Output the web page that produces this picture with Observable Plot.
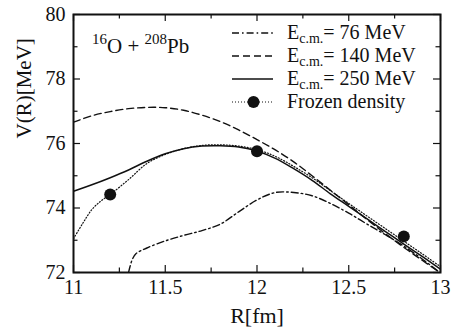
<!DOCTYPE html>
<html><head><meta charset="utf-8">
<script src="https://cdn.jsdelivr.net/npm/d3@7"></script>
<script src="https://cdn.jsdelivr.net/npm/@observablehq/plot@0.6"></script>
<style>
html,body{margin:0;padding:0;background:#fff}
#chart svg, #chart svg text{font-family:"Liberation Serif","Tinos",serif !important}
</style>
</head><body><div id="chart"></div>
<script>
// ---- data ----
const r76 = [11.30, 11.32, 11.34, 11.40, 11.50, 11.60, 11.70, 11.80, 11.90, 12.00, 12.10, 12.20, 12.30, 12.40, 12.50, 12.60, 12.70, 12.80, 12.90, 13.00];
const v76 = [72.00, 72.40, 72.58, 72.76, 72.98, 73.15, 73.30, 73.50, 73.88, 74.25, 74.48, 74.48, 74.38, 74.14, 73.84, 73.50, 73.17, 72.82, 72.42, 71.98];

const r140 = [11.0, 11.1, 11.2, 11.3, 11.4, 11.5, 11.6, 11.7, 11.8, 11.9, 12.0, 12.1, 12.2, 12.3, 12.4, 12.5, 12.6, 12.7, 12.8, 12.9, 13.0];
const v140 = [76.66, 76.86, 76.99, 77.08, 77.12, 77.11, 77.03, 76.88, 76.68, 76.42, 76.12, 75.80, 75.43, 75.00, 74.55, 74.10, 73.64, 73.20, 72.78, 72.38, 71.99];

const r250 = [11.0, 11.1, 11.2, 11.3, 11.4, 11.5, 11.6, 11.7, 11.8, 11.9, 12.0, 12.1, 12.2, 12.3, 12.4, 12.5, 12.6, 12.7, 12.8, 12.9, 13.0];
const v250 = [74.52, 74.72, 74.94, 75.18, 75.45, 75.68, 75.84, 75.92, 75.93, 75.89, 75.77, 75.54, 75.22, 74.86, 74.44, 74.05, 73.66, 73.27, 72.88, 72.50, 72.10];

const rFrozen = [11.0, 11.05, 11.1, 11.15, 11.2, 11.3, 11.4, 11.5, 11.6, 11.7, 11.8, 11.9, 12.0, 12.1, 12.2, 12.3, 12.4, 12.5, 12.6, 12.7, 12.8, 12.9, 13.0];
const vFrozen = [73.05, 73.52, 73.95, 74.22, 74.42, 74.88, 75.38, 75.66, 75.84, 75.94, 75.96, 75.92, 75.81, 75.60, 75.29, 74.94, 74.54, 74.14, 73.75, 73.36, 72.97, 72.58, 72.18];

const rFrozenPts = [11.2, 12.0, 12.8];
const vFrozenPts = [74.42, 75.76, 73.12];

const xTicks = [11, 11.5, 12, 12.5, 13];
const xMinor = [11.25, 11.75, 12.25, 12.75];
const yTicks = [72, 74, 76, 78, 80];
const yMinor = [73, 75, 77, 79];

const energies = [76, 140, 250];
const frozenLabel = "Frozen density";
const xLabel = "R[fm]";
const yLabel = "V(R)[MeV]";
const titleParts = [["16", true], ["O", false], [" + ", false], ["208", true], ["Pb", false]];

// ---- build tables ----
const toRows = (rs, vs) => rs.map((r, i) => ({R: r, V: vs[i]}));
const d76 = toRows(r76, v76), d140 = toRows(r140, v140), d250 = toRows(r250, v250);
const dFrozen = toRows(rFrozen, vFrozen), pFrozen = toRows(rFrozenPts, vFrozenPts);

const INK = "#111";
const FONT = "'Liberation Serif', 'Tinos', serif";
const W = 456, H = 327, ML = 73, MR = 16, MT = 14, MB = 55;
const innerW = W - ML - MR, innerH = H - MT - MB;
const MAJ = 7, MIN = 4.5;

const styles = [
  {dash: "7,3,1.6,3", width: 1.4},
  {dash: "7,4", width: 1.4},
  {dash: null, width: 1.5},
  {dash: "1,2", width: 1.2}
];

// title and legend drawn inside the frame
function annotations(index, scales, values, dims) {
  const g = d3.create("svg:g").attr("font-family", FONT).attr("fill", INK).attr("text-anchor", "start");
  const left = dims.marginLeft, top = dims.marginTop, right = dims.width - dims.marginRight;
  // title
  const t = g.append("text").attr("x", left + 19).attr("y", top + 39).attr("font-size", 21);
  let shifted = false;
  for (const [s, sup] of titleParts) {
    const ts = t.append("tspan").text(s);
    if (sup) { ts.attr("font-size", 15).attr("dy", shifted ? 0 : -9); shifted = true; }
    else { ts.attr("font-size", 21).attr("dy", shifted ? 9 : 0); shifted = false; }
  }
  // legend
  const x1 = right - 208, x2 = right - 167, tx = right - 153;
  const rowY = i => top + 19 + i * 23;
  energies.forEach((e, i) => {
    const y = rowY(i);
    const ln = g.append("line").attr("x1", x1).attr("x2", x2).attr("y1", y).attr("y2", y)
      .attr("stroke", INK).attr("stroke-width", styles[i].width);
    if (styles[i].dash) ln.attr("stroke-dasharray", styles[i].dash);
    const tx0 = g.append("text").attr("x", tx).attr("y", y + 6).attr("font-size", 20);
    tx0.append("tspan").text("E");
    tx0.append("tspan").attr("font-size", 14).attr("dy", 4).text("c.m.");
    tx0.append("tspan").attr("font-size", 20).attr("dy", -4).text(`= ${e} MeV`);
  });
  const yF = rowY(3);
  g.append("line").attr("x1", x1).attr("x2", x2).attr("y1", yF).attr("y2", yF)
    .attr("stroke", INK).attr("stroke-width", styles[3].width).attr("stroke-dasharray", styles[3].dash);
  g.append("circle").attr("cx", (x1 + x2) / 2 + 1).attr("cy", yF).attr("r", 6).attr("fill", INK);
  g.append("text").attr("x", tx).attr("y", yF + 6).attr("font-size", 20).text(frozenLabel);
  return g.node();
}

const lineOpts = (s) => ({x: "R", y: "V", stroke: INK, strokeWidth: s.width, strokeDasharray: s.dash ?? undefined, curve: "catmull-rom", clip: true});

const chart = Plot.plot({
  width: W, height: H,
  marginLeft: ML, marginRight: MR, marginTop: MT, marginBottom: MB,
  style: `font-family: ${FONT}; background: #fff; color: ${INK};`,
  x: {domain: [11, 13]},
  y: {domain: [72, 80]},
  marks: [
    Plot.line(d76, lineOpts(styles[0])),
    Plot.line(d140, lineOpts(styles[1])),
    Plot.line(d250, lineOpts(styles[2])),
    Plot.line(dFrozen, lineOpts(styles[3])),
    Plot.dot(pFrozen, {x: "R", y: "V", r: 6, fill: INK, stroke: "none"}),
    // inward ticks on all four sides
    Plot.tickX(xTicks, {x: d => d, insetTop: innerH - MAJ, stroke: INK, strokeWidth: 1.2}),
    Plot.tickX(xTicks, {x: d => d, insetBottom: innerH - MAJ, stroke: INK, strokeWidth: 1.2}),
    Plot.tickX(xMinor, {x: d => d, insetTop: innerH - MIN, stroke: INK, strokeWidth: 1.2}),
    Plot.tickX(xMinor, {x: d => d, insetBottom: innerH - MIN, stroke: INK, strokeWidth: 1.2}),
    Plot.tickY(yTicks, {y: d => d, insetRight: innerW - MAJ, stroke: INK, strokeWidth: 1.2}),
    Plot.tickY(yTicks, {y: d => d, insetLeft: innerW - MAJ, stroke: INK, strokeWidth: 1.2}),
    Plot.tickY(yMinor, {y: d => d, insetRight: innerW - MIN, stroke: INK, strokeWidth: 1.2}),
    Plot.tickY(yMinor, {y: d => d, insetLeft: innerW - MIN, stroke: INK, strokeWidth: 1.2}),
    Plot.axisX({ticks: xTicks, tickSize: 0, tickPadding: 7, fontSize: 20, tickFormat: d => String(d), label: null}),
    Plot.axisY({ticks: yTicks, tickSize: 0, tickPadding: 8, fontSize: 20, tickFormat: d => String(d), label: null}),
    Plot.text([xLabel], {text: d => d, frameAnchor: "bottom", lineAnchor: "bottom", dy: 50, fontSize: 22, fill: INK}),
    Plot.text([yLabel], {text: d => d, frameAnchor: "left", rotate: -90, dx: -49, dy: -5, fontSize: 21, fill: INK}),
    Plot.frame({stroke: INK, strokeWidth: 2}),
    annotations
  ]
});
document.getElementById("chart").appendChild(chart);
</script>
</body></html>
